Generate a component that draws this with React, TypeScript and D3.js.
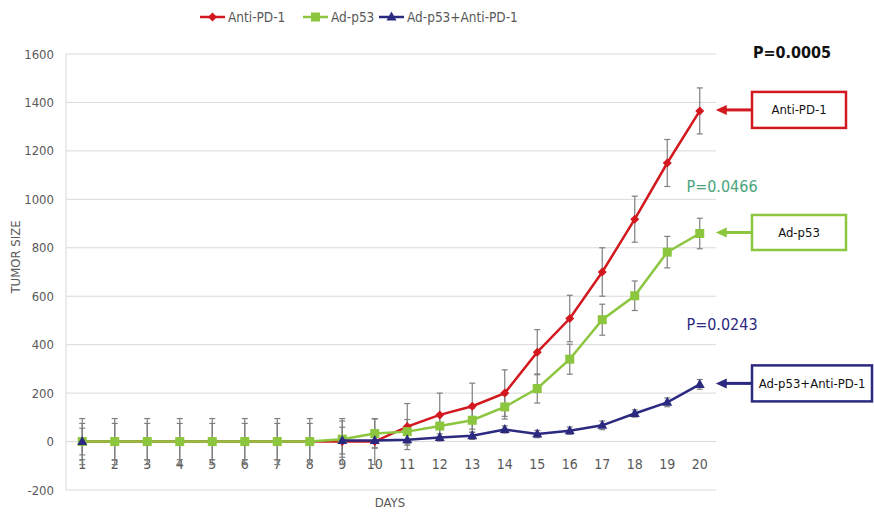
import React from 'react';
import * as d3 from 'd3';

const days = ['1', '2', '3', '4', '5', '6', '7', '8', '9', '10', '11', '12', '13', '14', '15', '16', '17', '18', '19', '20'];

const antiPd1 = [0, 0, 0, 0, 0, 0, 0, 0, 0, 0, 62, 110, 146, 200, 369, 508, 700, 918, 1150, 1365];
const antiPd1Err = [95, 95, 95, 95, 95, 95, 95, 95, 95, 95, 95, 90, 95, 96, 93, 96, 100, 95, 97, 95];

const adP53 = [0, 0, 0, 0, 0, 0, 0, 0, 10, 33, 41, 64, 88, 143, 219, 340, 503, 602, 782, 859];
const adP53Err = [75, 75, 75, 75, 75, 75, 75, 75, 75, 60, 50, 50, 50, 50, 60, 62, 64, 61, 65, 63];

const combo = [0, null, null, null, null, null, null, null, 4, 4, 7, 17, 24, 50, 31, 45, 67, 116, 162, 236];
const comboErr = [55, 0, 0, 0, 0, 0, 0, 0, 55, 30, 22, 15, 15, 15, 15, 15, 18, 15, 18, 20];

const yTicks = [-200, 0, 200, 400, 600, 800, 1000, 1200, 1400, 1600];

const seriesNames = ['Anti-PD-1', 'Ad-p53', 'Ad-p53+Anti-PD-1'];
const pValues = ['P=0.0005', 'P=0.0466', 'P=0.0243'];

const RED = '#d2191f';
const GREEN = '#8cc63f';
const NAVY = '#2b2a80';
const FONT = '"Liberation Sans Narrow", "DejaVu Sans Condensed", "Open Sans", sans-serif';

const W = 874;
const H = 512;
const margin = { top: 54, right: 158, bottom: 22, left: 66 };

type Pt = { d: string; v: number | null; e: number };

const build = (vals: (number | null)[], errs: number[]): Pt[] =>
  days.map((d, i) => ({ d, v: vals[i], e: errs[i] }));

function Marker({ shape, x, y, color }: { shape: string; x: number; y: number; color: string }) {
  if (shape === 'diamond') {
    return <path d={`M${x},${y - 4.5}L${x + 4.5},${y}L${x},${y + 4.5}L${x - 4.5},${y}Z`} fill={color} />;
  }
  if (shape === 'square') {
    return <rect x={x - 4.5} y={y - 4.5} width={9} height={9} fill={color} />;
  }
  return <path d={`M${x},${y - 5.5}L${x + 5},${y + 3.5}L${x - 5},${y + 3.5}Z`} fill={color} />;
}

export default function App() {
  const x = d3.scaleBand<string>().domain(days).range([margin.left, W - margin.right]);
  const y = d3.scaleLinear().domain([-200, 1600]).range([H - margin.bottom, margin.top]);
  const cx = (d: string) => (x(d) ?? 0) + x.bandwidth() / 2;

  const series = [
    { name: seriesNames[0], color: RED, shape: 'diamond', pts: build(antiPd1, antiPd1Err) },
    { name: seriesNames[1], color: GREEN, shape: 'square', pts: build(adP53, adP53Err) },
    { name: seriesNames[2], color: NAVY, shape: 'triangle', pts: build(combo, comboErr) },
  ];

  const line = d3
    .line<Pt>()
    .defined((p) => p.v !== null)
    .x((p) => cx(p.d))
    .y((p) => y(p.v as number));

  const x0 = margin.left;
  const x1 = W - margin.right;

  // legend layout
  const legend = [
    { lx: 200, tx: 228 },
    { lx: 303, tx: 331 },
    { lx: 379, tx: 407 },
  ];

  // callout boxes on the right
  const callouts = [
    { label: seriesNames[0], color: RED, idx: 0, bx: 752, bw: 94, h: 36 },
    { label: seriesNames[1], color: GREEN, idx: 1, bx: 752, bw: 94, h: 35 },
    { label: seriesNames[2], color: NAVY, idx: 2, bx: 752, bw: 120, h: 36 },
  ];

  return (
    <svg width={W} height={H} style={{ position: 'absolute', left: 0, top: 0, background: '#fff' }} fontFamily={FONT}>
      {/* gridlines */}
      {yTicks.map((t) => (
        <line key={t} x1={x0} x2={x1} y1={y(t)} y2={y(t)} stroke="#d9d9d9" strokeWidth={1} />
      ))}
      <line x1={x0} x2={x0} y1={y(1600)} y2={y(-200)} stroke="#d9d9d9" strokeWidth={1} />

      {/* y tick labels */}
      {yTicks.map((t) => (
        <text key={t} x={x0 - 12} y={y(t)} dy="0.35em" textAnchor="end" fontSize={13} fill="#595959">
          {t}
        </text>
      ))}

      {/* x tick labels (axis crosses at 0) */}
      {days.map((d) => (
        <text key={d} x={cx(d)} y={y(0) + 27} textAnchor="middle" fontSize={14} fill="#595959">
          {d}
        </text>
      ))}

      {/* axis titles */}
      <text x={390} y={507} textAnchor="middle" fontSize={13} fill="#595959">DAYS</text>
      <text transform="translate(20,257) rotate(-90)" textAnchor="middle" fontSize={13} fill="#595959">
        TUMOR SIZE
      </text>

      {/* error bars */}
      {series.map((s) =>
        s.pts
          .filter((p) => p.v !== null && p.e > 0)
          .map((p) => {
            const px = cx(p.d);
            const top = y((p.v as number) + p.e);
            const bot = y((p.v as number) - p.e);
            return (
              <g key={s.name + p.d} stroke="#7f7f7f" strokeWidth={1.2}>
                <line x1={px} x2={px} y1={top} y2={bot} />
                <line x1={px - 3} x2={px + 3} y1={top} y2={top} />
                <line x1={px - 3} x2={px + 3} y1={bot} y2={bot} />
              </g>
            );
          })
      )}

      {/* lines and markers */}
      {series.map((s) => (
        <g key={s.name}>
          <path d={line(s.pts) ?? ''} fill="none" stroke={s.color} strokeWidth={2.5} />
          {s.pts
            .filter((p) => p.v !== null)
            .map((p) => (
              <Marker key={p.d} shape={s.shape} x={cx(p.d)} y={y(p.v as number)} color={s.color} />
            ))}
        </g>
      ))}

      {/* legend */}
      {series.map((s, i) => (
        <g key={s.name}>
          <line x1={legend[i].lx} x2={legend[i].lx + 25} y1={17} y2={17} stroke={s.color} strokeWidth={2.5} />
          <Marker shape={s.shape} x={legend[i].lx + 12.5} y={17} color={s.color} />
          <text x={legend[i].tx} y={17} dy="0.35em" fontSize={13.5} fill="#595959">
            {s.name}
          </text>
        </g>
      ))}

      {/* p-values */}
      <text x={792} y={52} dy="0.35em" textAnchor="middle" fontSize={16} fontWeight="bold" fill="#111">
        {pValues[0]}
      </text>
      <text x={722} y={186} dy="0.35em" textAnchor="middle" fontSize={16} fill="#4aa47c">
        {pValues[1]}
      </text>
      <text x={722} y={324} dy="0.35em" textAnchor="middle" fontSize={16} fill={NAVY}>
        {pValues[2]}
      </text>

      {/* callouts */}
      {callouts.map((c) => {
        const last = series[c.idx].pts[days.length - 1];
        const ay = y(last.v as number) - 1;
        const tip = cx(last.d) + 16;
        return (
          <g key={c.label}>
            <line x1={c.bx} x2={tip + 8} y1={ay} y2={ay} stroke={c.color} strokeWidth={3} />
            <path d={`M${tip},${ay}L${tip + 11},${ay - 5}L${tip + 11},${ay + 5}Z`} fill={c.color} />
            <rect
              x={c.bx}
              y={ay - c.h / 2}
              width={c.bw}
              height={c.h}
              fill="#fff"
              stroke={c.color}
              strokeWidth={2.5}
            />
            <text x={c.bx + c.bw / 2} y={ay} dy="0.35em" textAnchor="middle" fontSize={13} fill="#111">
              {c.label}
            </text>
          </g>
        );
      })}
    </svg>
  );
}
